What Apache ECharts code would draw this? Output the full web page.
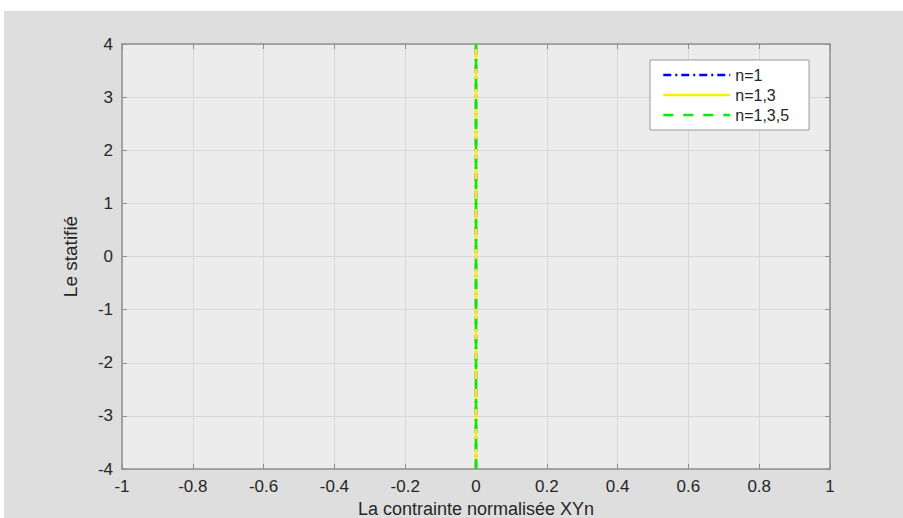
<!DOCTYPE html>
<html><head><meta charset="utf-8">
<script src="https://cdn.jsdelivr.net/npm/echarts@6/dist/echarts.min.js"></script>
<style>
html,body{margin:0;padding:0;background:#ffffff;width:903px;height:518px;overflow:hidden;}
#c{position:absolute;left:4px;top:11px;width:899px;height:507px;background:#dedede;}
</style></head>
<body><div id="c"></div>
<script>
const seriesNames = ['n=1', 'n=1,3', 'n=1,3,5'];
const xValues = [0, 0];
const yValues = [-4, 4];
const xTicks = [-1, -0.8, -0.6, -0.4, -0.2, 0, 0.2, 0.4, 0.6, 0.8, 1];
const yTicks = [-4, -3, -2, -1, 0, 1, 2, 3, 4];
const xName = 'La contrainte normalisée XYn';
const yName = 'Le statifié';

const colors = ['#0000ff', '#f7f000', '#00ee00'];
const dashes = [[8, 4, 2, 4], 'solid', [10, 10]];
const widths = [2.5, 2.5, 2.5];

const pts = xValues.map((x, i) => [x, yValues[i]]);
const font = 'Liberation Sans, Arial, Helvetica, sans-serif';
const axisCol = '#8f8f8f';
const txtCol = '#262626';

function fmt(v){ return String(Math.round(v*10)/10); }

const chart = echarts.init(document.getElementById('c'), null, {renderer: 'svg'});
chart.setOption({
  animation: false,
  backgroundColor: '#dedede',
  grid: {left: 118, top: 33, right: 73, bottom: 49, show: true, backgroundColor: '#ececec', borderWidth: 0, outerBoundsMode: 'none', containLabel: false},
  legend: {
    orient: 'vertical', left: 646, top: 49,
    padding: [7, 20, 7, 12], itemGap: 4, itemWidth: 67, itemHeight: 14,
    backgroundColor: '#ffffff', borderColor: '#9a9a9a', borderWidth: 1,
    itemStyle: {opacity: 0},
    lineStyle: {width: 2.5},
    textStyle: {fontFamily: font, fontSize: 16, color: txtCol},
    data: seriesNames
  },
  xAxis: [{
    type: 'value', min: xTicks[0], max: xTicks[xTicks.length-1], interval: 0.2,
    name: xName, nameLocation: 'middle', nameGap: 19,
    nameTextStyle: {fontFamily: font, fontSize: 18, lineHeight: 18, color: txtCol},
    axisLine: {show: true, onZero: false, lineStyle: {color: axisCol, width: 1.5}},
    axisTick: {show: true, inside: true, length: 5, lineStyle: {color: axisCol}},
    axisLabel: {fontFamily: font, fontSize: 17, color: txtCol, margin: 9, formatter: fmt},
    splitLine: {show: true, lineStyle: {color: '#d7d7d7', width: 1}}
  }, {
    type: 'value', position: 'top', min: xTicks[0], max: xTicks[xTicks.length-1], interval: 0.2,
    axisLine: {show: true, onZero: false, lineStyle: {color: axisCol, width: 1.5}},
    axisTick: {show: true, inside: true, length: 5, lineStyle: {color: axisCol}},
    axisLabel: {show: false}, splitLine: {show: false}
  }],
  yAxis: [{
    type: 'value', min: yTicks[0], max: yTicks[yTicks.length-1], interval: 1,
    name: yName, nameLocation: 'middle', nameGap: 42,
    nameTextStyle: {fontFamily: font, fontSize: 19, color: txtCol},
    axisLine: {show: true, onZero: false, lineStyle: {color: axisCol, width: 1.5}},
    axisTick: {show: true, inside: true, length: 5, lineStyle: {color: axisCol}},
    axisLabel: {fontFamily: font, fontSize: 17, color: txtCol, margin: 9},
    splitLine: {show: true, lineStyle: {color: '#d7d7d7', width: 1}}
  }, {
    type: 'value', position: 'right', min: yTicks[0], max: yTicks[yTicks.length-1], interval: 1,
    axisLine: {show: true, onZero: false, lineStyle: {color: axisCol, width: 1.5}},
    axisTick: {show: true, inside: true, length: 5, lineStyle: {color: axisCol}},
    axisLabel: {show: false}, splitLine: {show: false}
  }],
  series: seriesNames.map((n, i) => ({
    name: n, type: 'line', xAxisIndex: 0, yAxisIndex: 0,
    data: pts, showSymbol: false, symbol: 'none',
    itemStyle: {color: colors[i]},
    lineStyle: {color: colors[i], width: widths[i], type: dashes[i]},
    z: 3 + i
  }))
});
</script></body></html>
